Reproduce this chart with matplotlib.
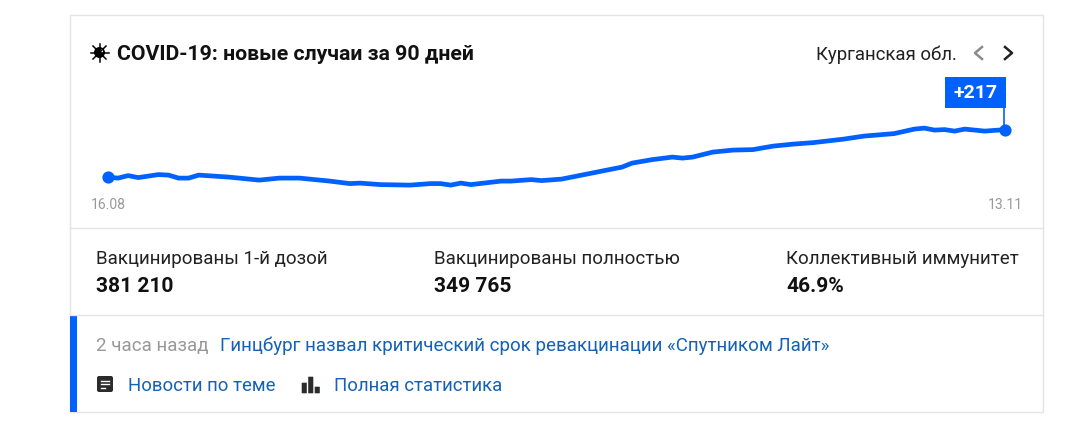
import matplotlib
matplotlib.use('Agg')
import matplotlib.pyplot as plt
import matplotlib.patches as mpatches

plt.rcParams['font.family'] = ['Roboto', 'DejaVu Sans']

# значения (день от 16.08, новые случаи)
days = [0, 1, 2, 3, 5, 6, 7, 8, 9, 12, 15, 17, 19, 22, 24, 25, 27, 30, 32, 33, 34, 35, 36, 39, 40,
        42, 43, 45, 48, 51, 52, 54, 56, 57, 58, 60, 62, 64, 66, 68, 70, 73, 75, 78, 80, 81, 82, 83,
        84, 85, 87, 89]
cases = [122, 120, 125, 121, 127, 126, 120, 120, 126, 122, 116, 120, 120, 114, 109, 110, 107, 106,
         109, 109, 106, 110, 107, 114, 114, 117, 115, 118, 130, 142, 150, 157, 162, 160, 162, 172,
         176, 177, 184, 188, 191, 198, 204, 209, 218, 220, 216, 217, 214, 218, 214, 217]
date_labels = ['16.08', '13.11']
last_label = '+217'

stat_names = ['Вакцинированы 1-й дозой', 'Вакцинированы полностью', 'Коллективный иммунитет']
stat_values = ['381 210', '349 765', '46.9%']

BLUE = '#0061ff'
LINK = '#1462b8'
GREY = '#999999'
DARK = '#111111'
W, H = 1065, 435


def px(size):
    return size * 0.72


fig = plt.figure(figsize=(W / 100, H / 100), dpi=100, facecolor='white')

# слой в пикселях для карточки и текста
bg = fig.add_axes([0, 0, 1, 1])
bg.set_xlim(0, W)
bg.set_ylim(H, 0)
bg.axis('off')

bg.add_patch(mpatches.Rectangle((70, 16), 973, 397, fc='white', ec='#e4e4e4', lw=1))
bg.plot([70, 1043], [228.5, 228.5], color='#e4e4e4', lw=1)
bg.plot([70, 1043], [316, 316], color='#e4e4e4', lw=1)
bg.add_patch(mpatches.Rectangle((70, 316), 7, 97, fc=BLUE, ec='none'))

# иконка вируса
bg.add_patch(mpatches.Circle((99.5, 53.5), 5.5, fc='black', ec='none'))
for dx, dy in [(0, 9), (0, -9), (9, 0), (-9, 0), (6.5, 6.5), (-6.5, 6.5), (6.5, -6.5), (-6.5, -6.5)]:
    bg.plot([99.5, 99.5 + dx], [53.5, 53.5 + dy], color='black', lw=1.1)
bg.add_patch(mpatches.Circle((101.5, 52), 1.6, fc='white', ec='none'))

bg.text(117, 54, 'COVID-19: новые случаи за 90 дней', fontsize=px(21.3), fontweight='bold',
        color=DARK, va='center', ha='left')
bg.text(957, 55, 'Курганская обл.', fontsize=px(18.6), color='#222222', va='center', ha='right')
bg.plot([982, 975, 982], [48, 54, 60], color='#8a8a8a', lw=1.8)
bg.plot([1005, 1012, 1005], [48, 54, 60], color='#222222', lw=1.8)

bg.text(108, 205.5, date_labels[0], fontsize=px(14), color=GREY, va='center', ha='center')
bg.text(1005, 205.5, date_labels[1], fontsize=px(14), color=GREY, va='center', ha='center')

for x0, name, value in zip([95.5, 434, 786], stat_names, stat_values):
    bg.text(x0, 259, name, fontsize=px(18.8), color='#222222', va='center', ha='left')
    bg.text(x0, 287, value, fontsize=px(21), fontweight='bold', color=DARK, va='center', ha='left')

bg.text(95.5, 346, '2 часа назад', fontsize=px(18.8), color=GREY, va='center', ha='left')
bg.text(220, 346, 'Гинцбург назвал критический срок ревакцинации «Спутником Лайт»', fontsize=px(18.75),
        color=LINK, va='center', ha='left')
bg.text(128, 386, 'Новости по теме', fontsize=px(18.7), color=LINK, va='center', ha='left')
bg.text(334, 386, 'Полная статистика', fontsize=px(18.7), color=LINK, va='center', ha='left')

# иконка документа
bg.add_patch(mpatches.FancyBboxPatch((99, 379), 12, 12, boxstyle='round,pad=2', fc='#2b2b2b', ec='none'))
for y, x1 in [(381.5, 109), (385, 109), (388.5, 105)]:
    bg.plot([101, x1], [y, y], color='white', lw=1)

# иконка статистики
for x0, top in [(302, 384), (308.5, 378), (315, 388)]:
    bg.add_patch(mpatches.FancyBboxPatch((x0, top), 4.5, 394 - top, boxstyle='round,pad=0.3',
                                         fc='#2b2b2b', ec='none'))

# сам график: пиксели 108..1005 по x, 100..200 по y
ax = fig.add_axes([108 / W, 1 - 200.6 / H, 897 / W, 100 / H])
ax.patch.set_alpha(0)
ax.set_xlim(0, 89)
ax.set_ylim(77, 277)
ax.axis('off')
ax.plot(days, cases, color=BLUE, lw=3.4, solid_capstyle='round', solid_joinstyle='round', clip_on=False)
ax.plot([days[0], days[-1]], [cases[0], cases[-1]], ls='none', marker='o', ms=8.8, color=BLUE,
        mec='none', clip_on=False)
ax.plot([days[-1] - 0.05, days[-1] - 0.05], [cases[-1], cases[-1] + 46], color=BLUE, lw=1.2, clip_on=False)

# флажок с последним значением
bg.add_patch(mpatches.Rectangle((945, 78), 61, 30.5, fc=BLUE, ec='none'))
bg.text(975, 93.5, last_label, fontsize=px(19.5), fontweight='bold', color='white', va='center', ha='center')

fig.savefig('out.png', dpi=100)
